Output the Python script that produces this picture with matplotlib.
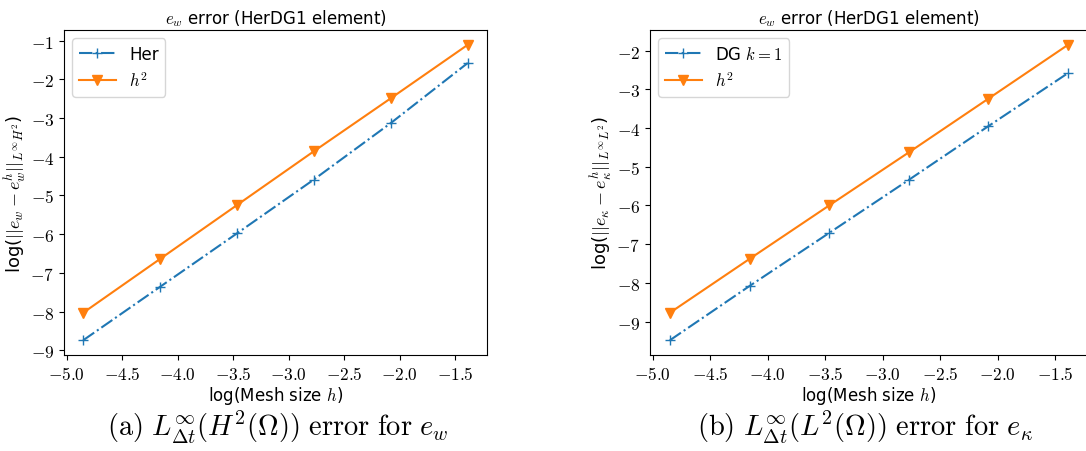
import numpy as np
import matplotlib
matplotlib.use("Agg")
import matplotlib.pyplot as plt
from matplotlib.ticker import FuncFormatter

plt.rcParams['mathtext.fontset'] = 'cm'
plt.rcParams['font.family'] = ['DejaVu Sans']

# data
log_h = [-4.852, -4.159, -3.466, -2.773, -2.079, -1.386]
her_err = [-8.74, -7.36, -5.98, -4.59, -3.13, -1.58]
h2_left = [-8.03, -6.64, -5.25, -3.86, -2.49, -1.11]
dg_err = [-9.48, -8.08, -6.71, -5.34, -3.95, -2.58]
h2_right = [-8.77, -7.38, -6.00, -4.63, -3.24, -1.85]

titles = [r'$e_w$ error (HerDG1 element)', r'$e_w$ error (HerDG1 element)']
series_labels = [['Her', r'$h^2$'], [r'DG $k=1$', r'$h^2$']]
ylabels = [r'log($||e_w - e_w^h||_{L^\infty H^2}$)',
           r'log($||e_\kappa - e_\kappa^h||_{L^\infty L^2}$)']
xlabel = r'log(Mesh size $h$)'
captions = [r'$\mathrm{(a)}\ L^{\infty}_{\Delta t}(H^2(\Omega))\ \mathrm{error\ for}\ e_w$',
            r'$\mathrm{(b)}\ L^{\infty}_{\Delta t}(L^2(\Omega))\ \mathrm{error\ for}\ e_\kappa$']

W, H = 1086, 452
fig = plt.figure(figsize=(W / 100, H / 100), dpi=100)

def frac(l, t, r, b):
    return [l / W, 1 - b / H, (r - l) / W, (b - t) / H]

axes = [fig.add_axes(frac(64, 31, 487, 356)), fig.add_axes(frac(650, 31, 1088, 356))]
data = [(her_err, h2_left), (dg_err, h2_right)]

for i, ax in enumerate(axes):
    e, h2 = data[i]
    ax.plot(log_h, e, linestyle='-.', marker='+', color='C0', markersize=7,
            label=series_labels[i][0])
    ax.plot(log_h, h2, linestyle='-', marker='v', color='C1', markersize=7,
            label=series_labels[i][1])
    ax.set_title(titles[i], fontsize=12, pad=5)
    ax.set_xlabel(xlabel, fontsize=12, labelpad=1)
    ax.set_ylabel(ylabels[i], fontsize=13, labelpad=2)
    ax.xaxis.set_major_formatter(FuncFormatter(lambda v, p: r'$%.1f$' % v))
    ax.yaxis.set_major_formatter(FuncFormatter(lambda v, p: r'$%d$' % round(v)))
    ax.tick_params(labelsize=12.5)
    ax.legend(loc='upper left', fontsize=12, handlelength=2.2)

fig.text(278 / W, 1 - 428 / H, captions[0], fontsize=20.5, ha='center', va='center')
fig.text(865 / W, 1 - 428 / H, captions[1], fontsize=20.5, ha='center', va='center')

fig.savefig('out.png', dpi=100)
